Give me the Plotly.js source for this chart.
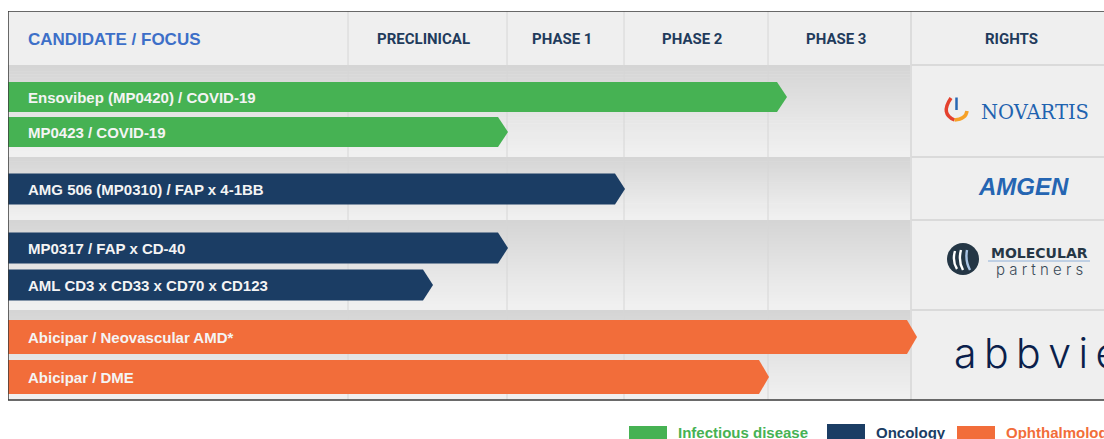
<!DOCTYPE html>
<html>
<head>
<meta charset="utf-8">
<script src="https://cdn.plot.ly/plotly-3.0.1.min.js"></script>
<style>
  html, body { margin: 0; padding: 0; background: #ffffff; }
  #chart { width: 1104px; height: 439px; }
</style>
</head>
<body>
<div id="chart"></div>
<script>
// ---------------- DATA ----------------
const candidates = [
  'Ensovibep (MP0420) / COVID-19',
  'MP0423 / COVID-19',
  'AMG 506 (MP0310) / FAP x 4-1BB',
  'MP0317 / FAP x CD-40',
  'AML CD3 x CD33 x CD70 x CD123',
  'Abicipar / Neovascular AMD*',
  'Abicipar / DME'
];
const areas = [
  'Infectious disease', 'Infectious disease',
  'Oncology', 'Oncology', 'Oncology',
  'Ophthalmology', 'Ophthalmology'
];
// development progress: arrow tip on the development axis
const progress = [779, 500, 617, 500, 425, 909, 761];
const stages = ['PRECLINICAL', 'PHASE 1', 'PHASE 2', 'PHASE 3'];
const headerFirst = 'CANDIDATE / FOCUS';
const headerRights = 'RIGHTS';
const areaNames = ['Infectious disease', 'Oncology', 'Ophthalmology'];
const partners = ['NOVARTIS', 'AMGEN', 'MOLECULAR', 'partners', 'abbvie'];

// ---------------- LAYOUT / STYLE ----------------
const areaColors = { 'Infectious disease': '#46b253', 'Oncology': '#1b3d64', 'Ophthalmology': '#f26d3a' };
const colEdges = [0, 340, 499, 616, 760, 903, 1112];
const headerH = 54;
const groupEdges = [54, 146, 209, 299, 389];
const rowY = [86, 121, 178, 237, 274, 326, 366];
const rowH = [30, 30, 31, 31, 31, 34, 34];
const tipLen = 10;
const frameBottom = 389;
const labelX = 18;

const shapes = [];
const annotations = [];

// header background
shapes.push({type:'rect', xref:'x', yref:'y', x0:0, x1:1112, y0:0, y1:headerH,
  fillcolor:'#efefef', line:{width:0}, layer:'below'});
// group gradients (left part)
for (let g = 0; g < groupEdges.length - 1; g++) {
  const y0 = groupEdges[g], y1 = groupEdges[g+1], n = 30;
  for (let k = 0; k < n; k++) {
    const t = k / (n - 1);
    const c = Math.round(213 + (240 - 213) * Math.min(1, t * 1.05));
    shapes.push({type:'rect', xref:'x', yref:'y', x0:0, x1:colEdges[5],
      y0: y0 + (y1 - y0) * k / n, y1: y0 + (y1 - y0) * (k + 1) / n + 0.6,
      fillcolor:`rgb(${c},${c},${c})`, line:{width:0}, layer:'below'});
  }
}
// rights column background
shapes.push({type:'rect', xref:'x', yref:'y', x0:colEdges[5], x1:1112, y0:headerH, y1:frameBottom,
  fillcolor:'#efefef', line:{width:0}, layer:'below'});
// vertical column lines
for (let i = 1; i <= 4; i++) {
  shapes.push({type:'line', xref:'x', yref:'y', x0:colEdges[i], x1:colEdges[i], y0:0, y1:frameBottom,
    line:{color:'#d6d6d6', width:1}, layer:'below'});
}
shapes.push({type:'line', xref:'x', yref:'y', x0:colEdges[5], x1:colEdges[5], y0:0, y1:frameBottom,
  line:{color:'#dcdcdc', width:2}, layer:'below'});
// rights horizontal separators
for (let g = 0; g < groupEdges.length - 1; g++) {
  shapes.push({type:'line', xref:'x', yref:'y', x0:colEdges[5], x1:1112, y0:groupEdges[g], y1:groupEdges[g],
    line:{color:'#dadada', width:2}, layer:'below'});
}
// frame
shapes.push({type:'line', xref:'x', yref:'y', x0:0, x1:0, y0:0, y1:frameBottom, line:{color:'#3b3b3b', width:1.5}});
shapes.push({type:'line', xref:'x', yref:'y', x0:0, x1:1112, y0:0, y1:0, line:{color:'#3b3b3b', width:1.5}});
shapes.push({type:'line', xref:'x', yref:'y', x0:0, x1:1112, y0:frameBottom, y1:frameBottom, line:{color:'#3b3b3b', width:1.5}});

// header labels
annotations.push({xref:'x', yref:'y', x:labelX, y:28, xanchor:'left', yanchor:'middle', showarrow:false,
  text:'<b>' + headerFirst + '</b>', font:{family:'Liberation Sans, Arial, sans-serif', size:17, color:'#3d6fc8'}});
stages.forEach((s, i) => {
  annotations.push({xref:'x', yref:'y', x:(colEdges[i+1] + colEdges[i+2]) / 2 - 4, y:28, xanchor:'center', yanchor:'middle',
    showarrow:false, text:'<b>' + s + '</b>', font:{family:'Roboto, sans-serif', size:15, color:'#1f3b5c'}});
});
annotations.push({xref:'x', yref:'y', x:1003, y:28, xanchor:'center', yanchor:'middle', showarrow:false,
  text:'<b>' + headerRights + '</b>', font:{family:'Roboto, sans-serif', size:15, color:'#1f3b5c'}});

// bars
const traces = candidates.map((name, i) => {
  const p = progress[i], c = rowY[i], h = rowH[i] / 2;
  return {
    type:'scatter', mode:'lines', fill:'toself', name:name,
    x:[0, p - tipLen, p, p - tipLen, 0, 0],
    y:[c - h, c - h, c, c + h, c + h, c - h],
    line:{width:0, color:areaColors[areas[i]]}, fillcolor:areaColors[areas[i]],
    hoverinfo:'skip', showlegend:false
  };
});
candidates.forEach((name, i) => {
  annotations.push({xref:'x', yref:'y', x:labelX, y:rowY[i], xanchor:'left', yanchor:'middle', showarrow:false,
    text:'<b>' + name + '</b>', font:{family:'Liberation Sans, Arial, sans-serif', size:15, color:'#f4f4f4'}});
});

// ---- partner logos ----
// Novartis
shapes.push({type:'path', xref:'x', yref:'y', path:'M 943 87 Q 932 103 946.5 109', line:{color:'#e4412e', width:3.5}});
shapes.push({type:'path', xref:'x', yref:'y', path:'M 946.5 109 Q 958 108 959 100', line:{color:'#f6a127', width:3.5}});
shapes.push({type:'line', xref:'x', yref:'y', x0:948.5, x1:948.5, y0:86.5, y1:99, line:{color:'#2767b3', width:2.5}});
annotations.push({xref:'x', yref:'y', x:1027, y:101, xanchor:'center', yanchor:'middle', showarrow:false,
  text:partners[0], font:{family:'DejaVu Serif, serif', size:19.5, color:'#1f63b0'}});
// Amgen
annotations.push({xref:'x', yref:'y', x:1015, y:175, xanchor:'center', yanchor:'middle', showarrow:false,
  text:'<b><i>' + partners[1] + '</i></b>', font:{family:'Liberation Sans, Arial, sans-serif', size:24, color:'#2565b2'}});
// Molecular partners
shapes.push({type:'circle', xref:'x', yref:'y', x0:939, x1:971, y0:232, y1:264, fillcolor:'#243645', line:{width:0}});
shapes.push({type:'path', xref:'x', yref:'y', path:'M 947 240 Q 944 250 949 258', line:{color:'#ffffff', width:2.4}});
shapes.push({type:'path', xref:'x', yref:'y', path:'M 953 239 Q 950 250 955 259', line:{color:'#ffffff', width:2.4}});
shapes.push({type:'path', xref:'x', yref:'y', path:'M 959 239 Q 957 250 962 259', line:{color:'#a9c3e3', width:2.4}});
annotations.push({xref:'x', yref:'y', x:1031, y:242, xanchor:'center', yanchor:'middle', showarrow:false,
  text:'<b>' + partners[2] + '</b>', font:{family:'DejaVu Sans, sans-serif', size:14, color:'#263746'}});
shapes.push({type:'line', xref:'x', yref:'y', x0:980, x1:1082, y0:250, y1:250, line:{color:'#8fb0d8', width:1}});
annotations.push({xref:'x', yref:'y', x:1031, y:258.5, xanchor:'center', yanchor:'middle', showarrow:false,
  text:partners[3].split('').join(' '), font:{family:'Inter, sans-serif', size:15, weight:300, color:'#3a4a58'}});
// AbbVie
annotations.push({xref:'x', yref:'y', x:944, y:342, xanchor:'left', yanchor:'middle', showarrow:false,
  text:partners[4].split('').join('\u2009'), font:{family:'Inter, sans-serif', size:41, weight:300, color:'#0b1f4b'}});

// ---- legend ----
const legendX = [621, 819, 949];
const legendY = [415, 413, 415];
areaNames.forEach((a, i) => {
  shapes.push({type:'rect', xref:'x', yref:'y', x0:legendX[i], x1:legendX[i] + 38, y0:legendY[i], y1:435,
    fillcolor:areaColors[a], line:{width:0}});
  annotations.push({xref:'x', yref:'y', x:legendX[i] + 47, y:421.5, xanchor:'left', yanchor:'middle', showarrow:false,
    text:'<b>' + a + '</b>', font:{family:'Liberation Sans, Arial, sans-serif', size:15, color:areaColors[a]}});
});

const layout = {
  width:1104, height:439,
  margin:{l:8, r:0, t:11, b:0, pad:0},
  paper_bgcolor:'#ffffff', plot_bgcolor:'#ffffff',
  xaxis:{range:[0, 1096], visible:false, fixedrange:true},
  yaxis:{range:[428, 0], visible:false, fixedrange:true},
  showlegend:false,
  shapes:shapes,
  annotations:annotations,
  hovermode:false
};
Plotly.newPlot('chart', traces, layout, {displayModeBar:false, staticPlot:true});
</script>
</body>
</html>
